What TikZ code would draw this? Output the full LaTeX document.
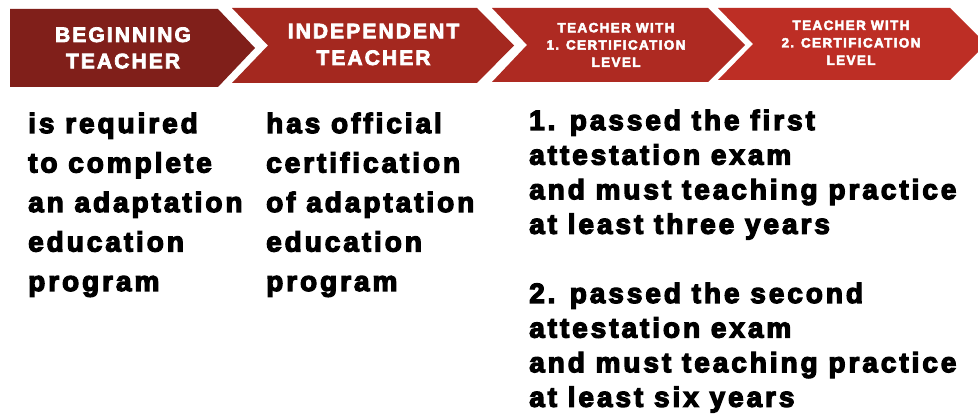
\documentclass[tikz,border=0pt]{standalone}
\usepackage{fontspec}
\setmainfont{Liberation Sans}
\newfontfamily\hdfont{Liberation Sans Bold}[LetterSpace=10,FakeBold=3.5]
\newfontfamily\bdfont{Liberation Sans Bold}[LetterSpace=10.5,FakeBold=4.5]
\definecolor{cOne}{HTML}{801F1A}
\definecolor{cTwo}{HTML}{A4281F}
\definecolor{cThree}{HTML}{AE2A22}
\definecolor{cFour}{HTML}{BD2E25}
\tikzset{
  hdbig/.style={anchor=base, inner sep=0, text=white, font=\hdfont\fontsize{21}{26}\selectfont},
  hdsmall/.style={anchor=base, inner sep=0, text=white, font=\hdfont\fontsize{13.5}{17.5}\selectfont},
  body/.style={anchor=base west, inner sep=0, text=black, font=\bdfont\fontsize{28}{34}\selectfont}
}
\begin{document}
\begin{tikzpicture}[x=1pt,y=-1pt]
\useasboundingbox (0,0) rectangle (978,414);
\fill[white] (0,0) rectangle (978,414);
% chevrons
\fill[cOne] (10,9) -- (218,9) -- (255,48) -- (218,87) -- (10,87) -- cycle;
\fill[cTwo] (232,8) -- (477,8) -- (514,45.5) -- (477,83) -- (232,83) -- (268,45.5) -- cycle;
\fill[cThree] (492,8) -- (708,8) -- (745,45) -- (708,82) -- (492,82) -- (527,45) -- cycle;
\fill[cFour] (718,8) -- (950,8) -- (986,44) -- (950,80) -- (718,80) -- (753,44) -- cycle;
% headers
\node[hdbig] (h1) at (123,42) {\vtop{\baselineskip=26.3pt\halign{\hfil#\hfil\cr BEGINNING\cr TEACHER\cr}}};
\node[hdbig] (h2) at (373.5,38.3) {\vtop{\baselineskip=26.7pt\halign{\hfil#\hfil\cr INDEPENDENT\cr TEACHER\cr}}};
\node[hdsmall] (h3) at (616,32.3) {\vtop{\baselineskip=17.3pt\halign{\hfil#\hfil\cr TEACHER WITH\cr 1. CERTIFICATION\cr LEVEL\cr}}};
\node[hdsmall] (h4) at (851,30) {\vtop{\baselineskip=17.5pt\halign{\hfil#\hfil\cr TEACHER WITH\cr 2. CERTIFICATION\cr LEVEL\cr}}};
% body texts
\node[body] (t1) at (28,133) {\vtop{\baselineskip=39.5pt\hbox{is required}\hbox{to complete}\hbox{an adaptation}\hbox{education}\hbox{program}}};
\node[body] (t2) at (266,133) {\vtop{\baselineskip=39.5pt\hbox{has official}\hbox{certification}\hbox{of adaptation}\hbox{education}\hbox{program}}};
\node[body] (t3) at (529,130) {\vtop{\baselineskip=34.6pt\hbox{1. passed the first}\hbox{attestation exam}\hbox{and must teaching practice}\hbox{at least three years}\hbox{\strut}\hbox{2. passed the second}\hbox{attestation exam}\hbox{and must teaching practice}\hbox{at least six years}}};
\end{tikzpicture}
\end{document}
